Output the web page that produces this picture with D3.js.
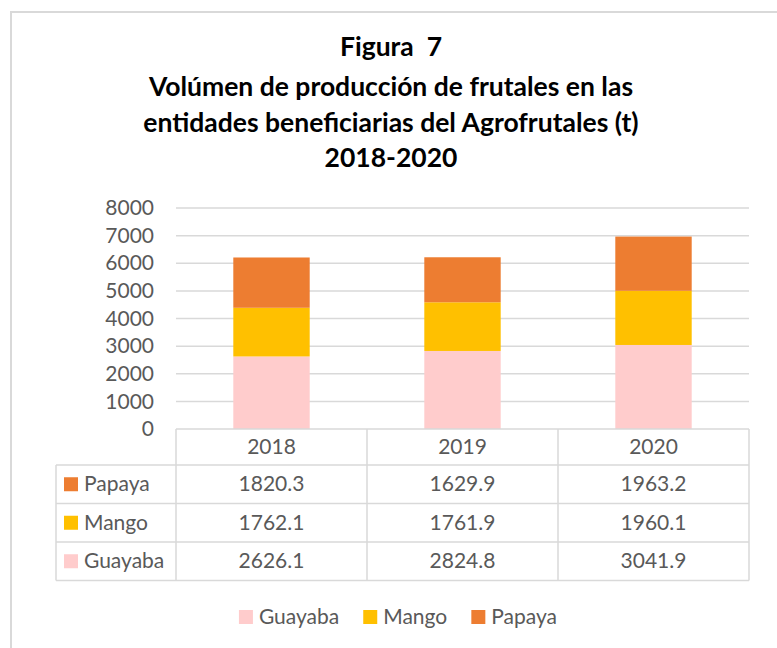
<!DOCTYPE html>
<html>
<head>
<meta charset="utf-8">
<script src="https://cdn.jsdelivr.net/npm/d3@7"></script>
<style>
  body { margin: 0; background: #fff; }
  svg { display: block; font-family: Lato, "Open Sans", sans-serif; }
  .title { white-space: pre; }
</style>
</head>
<body>
<div id="chart"></div>
<script>
// chart data
const years = ["2018", "2019", "2020"];
const seriesNames = ["Guayaba", "Mango", "Papaya"];
const guayaba = [2626.1, 2824.8, 3041.9];
const mango = [1762.1, 1761.9, 1960.1];
const papaya = [1820.3, 1629.9, 1963.2];
const yTicks = [0, 1000, 2000, 3000, 4000, 5000, 6000, 7000, 8000];
const titleLines = ["Figura  7", "Volúmen de producción de frutales en las",
  "entidades beneficiarias del Agrofrutales (t)", "2018-2020"];

const colors = { Guayaba: "#FFCCCC", Mango: "#FFC000", Papaya: "#ED7D31" };
const valuesBySeries = { Guayaba: guayaba, Mango: mango, Papaya: papaya };

const width = 777, height = 648;
const plot = { left: 176, right: 749, top: 208, bottom: 429 };
const textColor = "#595959", lineColor = "#D9D9D9";
const fontSize = 21;

const svg = d3.select("#chart").append("svg")
  .attr("width", width)
  .attr("height", height);

// outer frame (runs off the right and bottom edges)
svg.append("rect")
  .attr("x", 11).attr("y", 12)
  .attr("width", 800).attr("height", 700)
  .attr("fill", "none")
  .attr("stroke", lineColor)
  .attr("stroke-width", 2);

// title
svg.append("g").selectAll("text")
  .data(titleLines)
  .join("text")
    .attr("class", "title")
    .attr("x", 391)
    .attr("y", (d, i) => [56, 96, 132, 167][i])
    .attr("text-anchor", "middle")
    .attr("font-weight", "bold")
    .attr("font-size", 26.5)
    .attr("fill", "#000")
    .text(d => d);

// scales
const x = d3.scaleBand()
  .domain(years)
  .range([plot.left, plot.right])
  .paddingInner(0.6)
  .paddingOuter(0.3);

const y = d3.scaleLinear()
  .domain([0, 8000])
  .range([plot.bottom, plot.top]);

// gridlines
svg.append("g").selectAll("line")
  .data(yTicks.filter(d => d > 0))
  .join("line")
    .attr("x1", plot.left).attr("x2", plot.right)
    .attr("y1", d => y(d)).attr("y2", d => y(d))
    .attr("stroke", lineColor)
    .attr("stroke-width", 1.5);

// y axis labels
const yAxisG = svg.append("g")
  .attr("transform", `translate(${plot.left - 22},0)`)
  .call(d3.axisLeft(y).tickValues(yTicks).tickSize(0).tickPadding(0).tickFormat(d3.format("d")));
yAxisG.select(".domain").remove();
yAxisG.selectAll("text")
  .attr("font-family", "Lato, 'Open Sans', sans-serif")
  .attr("font-size", fontSize)
  .attr("fill", textColor);

// stacked bars
const rows = years.map((yr, i) => ({ year: yr, Guayaba: guayaba[i], Mango: mango[i], Papaya: papaya[i] }));
const stacked = d3.stack().keys(seriesNames)(rows);

svg.append("g").selectAll("g")
  .data(stacked)
  .join("g")
    .attr("fill", d => colors[d.key])
  .selectAll("rect")
  .data(d => d)
  .join("rect")
    .attr("x", d => x(d.data.year))
    .attr("width", x.bandwidth())
    .attr("y", d => y(d[1]))
    .attr("height", d => y(d[0]) - y(d[1]));

// data table under the plot
const fmt = d3.format(".1f");
const headerH = 36, rowH = 38.5;
const tableLeft = 56;
const tableRows = seriesNames.slice().reverse(); // Papaya, Mango, Guayaba
const tableBottom = plot.bottom + headerH + rowH * tableRows.length;
const colEdges = years.map((d, i) => plot.left + i * x.step()).concat([plot.right]);

const table = svg.append("g")
  .attr("stroke", lineColor)
  .attr("stroke-width", 1.5);

// horizontal lines
table.append("line")
  .attr("x1", plot.left).attr("x2", plot.right)
  .attr("y1", plot.bottom).attr("y2", plot.bottom);
d3.range(tableRows.length + 1).forEach(i => {
  const yy = plot.bottom + headerH + i * rowH;
  table.append("line")
    .attr("x1", tableLeft).attr("x2", plot.right)
    .attr("y1", yy).attr("y2", yy);
});
// vertical lines
table.append("line")
  .attr("x1", tableLeft).attr("x2", tableLeft)
  .attr("y1", plot.bottom + headerH).attr("y2", tableBottom);
colEdges.forEach(cx => {
  table.append("line")
    .attr("x1", cx).attr("x2", cx)
    .attr("y1", plot.bottom).attr("y2", tableBottom);
});

// header text
svg.append("g").selectAll("text")
  .data(years)
  .join("text")
    .attr("x", d => x(d) + x.bandwidth() / 2)
    .attr("y", plot.bottom + headerH / 2 + 7)
    .attr("text-anchor", "middle")
    .attr("font-size", fontSize)
    .attr("fill", textColor)
    .text(d => d);

// row labels and values
tableRows.forEach((name, r) => {
  const cy = plot.bottom + headerH + r * rowH + rowH / 2;
  const g = svg.append("g");
  g.append("rect")
    .attr("x", 64).attr("y", cy - 7)
    .attr("width", 14).attr("height", 14)
    .attr("fill", colors[name]);
  g.append("text")
    .attr("x", 84).attr("y", cy + 7)
    .attr("font-size", fontSize)
    .attr("fill", textColor)
    .text(name);
  g.selectAll("text.val")
    .data(valuesBySeries[name])
    .join("text")
      .attr("class", "val")
      .attr("x", (d, i) => x(years[i]) + x.bandwidth() / 2)
      .attr("y", cy + 7)
      .attr("text-anchor", "middle")
      .attr("font-size", fontSize)
      .attr("fill", textColor)
      .text(d => fmt(d));
});

// legend at the bottom
const legend = svg.append("g").attr("transform", "translate(0,617)");
const items = legend.selectAll("g")
  .data(seriesNames)
  .join("g");
items.append("rect")
  .attr("y", -7).attr("width", 14).attr("height", 14)
  .attr("fill", d => colors[d]);
items.append("text")
  .attr("x", 20).attr("y", 7)
  .attr("font-size", fontSize)
  .attr("fill", textColor)
  .text(d => d);
// lay legend items out side by side, centred
const gap = 24;
const widths = [];
items.each(function() { widths.push(this.getBBox().width); });
const total = d3.sum(widths) + gap * (widths.length - 1);
let lx = 398 - total / 2;
items.attr("transform", (d, i) => {
  const t = `translate(${lx},0)`;
  lx += widths[i] + gap;
  return t;
});
</script>
</body>
</html>
